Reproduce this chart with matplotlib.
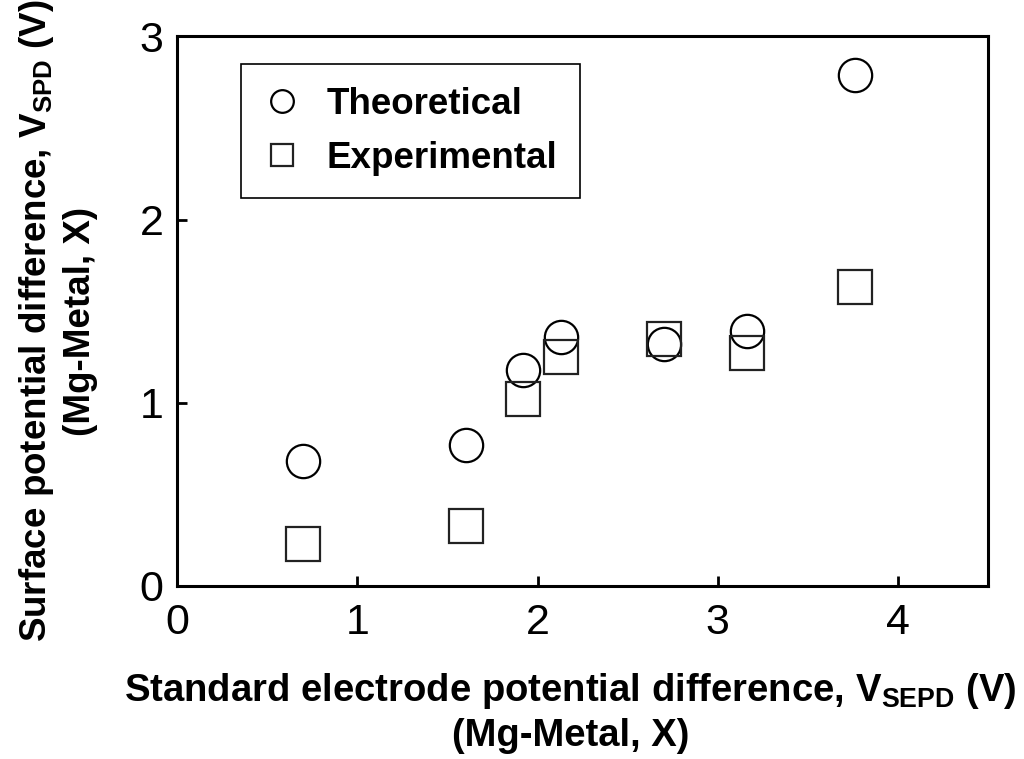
import matplotlib

matplotlib.use("Agg")
import matplotlib.pyplot as plt

# values
x_sepd = [0.70, 1.60, 1.92, 2.13, 2.70, 3.16, 3.76]
theoretical = [0.68, 0.77, 1.18, 1.36, 1.32, 1.39, 2.79]
experimental = [0.23, 0.33, 1.02, 1.25, 1.35, 1.27, 1.63]
x_ticks = [0, 1, 2, 3, 4]
y_ticks = [0, 1, 2, 3]

plt.rcParams["font.family"] = ["Liberation Sans", "DejaVu Sans"]
plt.rcParams["mathtext.fontset"] = "custom"
plt.rcParams["mathtext.rm"] = "Liberation Sans"
plt.rcParams["mathtext.bf"] = "Liberation Sans:bold"

fig = plt.figure(figsize=(10.24, 7.59), dpi=100)
ax = fig.add_axes([0.173, 0.228, 0.792, 0.724])

ax.plot(x_sepd, theoretical, linestyle="none", marker="o", markersize=24,
        markerfacecolor="none", markeredgecolor="black", markeredgewidth=1.6,
        label="Theoretical")
ax.plot(x_sepd, experimental, linestyle="none", marker="s", markersize=24,
        markerfacecolor="none", markeredgecolor="#222222", markeredgewidth=1.6,
        label="Experimental")

ax.set_xlim(0, 4.5)
ax.set_ylim(0, 3)
ax.set_xticks(x_ticks)
ax.set_yticks(y_ticks)
ax.tick_params(direction="in", length=7, width=2, labelsize=31, pad=12)
ax.tick_params(axis="y", pad=10)
for side in ax.spines.values():
    side.set_linewidth(2.2)

ax.set_xlabel("Standard electrode potential difference, $\\mathbf{V_{SEPD}}$ (V)\n(Mg-Metal, X)",
              fontsize=27.5, fontweight="bold", linespacing=1.25)
ax.xaxis.set_label_coords(0.485, -0.155, transform=ax.transAxes)
ax.xaxis.label.set_va("top")
ax.set_ylabel("Surface potential difference, $\\mathbf{V_{SPD}}$ (V)\n(Mg-Metal, X)",
              fontsize=26.5, fontweight="bold", linespacing=1.25)
ax.yaxis.set_label_coords(-0.098, 0.482, transform=ax.transAxes)

leg = ax.legend(loc="upper left", bbox_to_anchor=(0.079, 0.949), borderaxespad=0,
                fancybox=False, edgecolor="black", framealpha=1,
                prop={"size": 26.5, "weight": "bold"},
                markerscale=0.68, handletextpad=0.7, borderpad=0.62, labelspacing=0.5,
                handlelength=1.0)
leg.get_frame().set_linewidth(1.2)

fig.savefig("out.png", dpi=100)
